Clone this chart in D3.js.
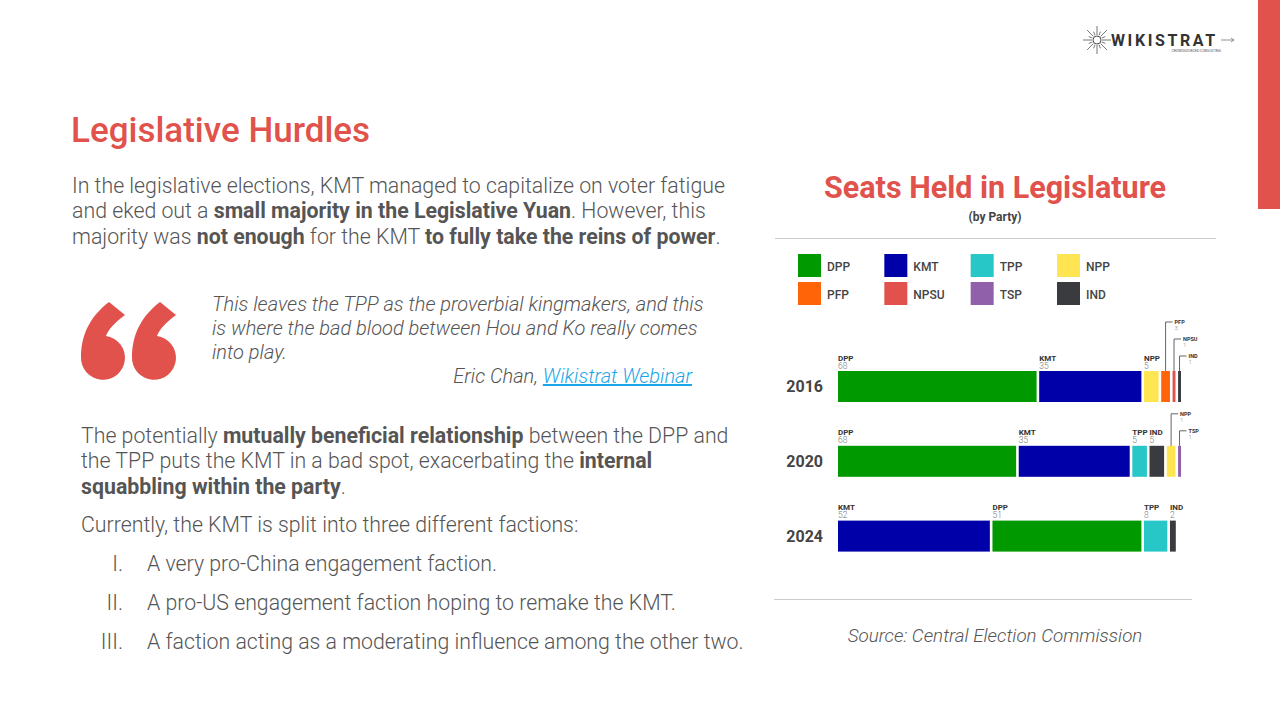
<!DOCTYPE html>
<html>
<head>
<meta charset="utf-8">
<script src="https://cdn.jsdelivr.net/npm/d3@7"></script>
<style>
  body { margin: 0; background: #fff; }
  svg { display: block; font-family: Roboto, "Noto Sans", sans-serif; }
</style>
</head>
<body>
<figure style="margin:0"></figure>
<script>
// chart data
var years = ["2016", "2020", "2024"];
var parties = ["DPP", "KMT", "TPP", "NPP", "PFP", "NPSU", "TSP", "IND"];
var partyColors = ["#009a00", "#0000a8", "#27c7c8", "#ffe552", "#ff6409", "#e0524b", "#9060aa", "#3a3b3f"];

var order2016 = ["DPP", "KMT", "NPP", "PFP", "NPSU", "IND"];
var seats2016 = [68, 35, 5, 3, 1, 1];
var labels2016 = ["68", "35", "5", "3", "1", "1"];

var order2020 = ["DPP", "KMT", "TPP", "IND", "NPP", "TSP"];
var seats2020 = [61, 38, 5, 5, 3, 1];
var labels2020 = ["68", "35", "5", "5", "1", "1"];

var order2024 = ["KMT", "DPP", "TPP", "IND"];
var seats2024 = [52, 51, 8, 2];
var labels2024 = ["52", "51", "8", "2"];

var totalSeats = 113;
var red = "#e0524b";
var textGrey = "#555";

var svg = d3.select("figure").append("svg")
    .attr("width", 1280)
    .attr("height", 720);

// ---- slide decoration ----
svg.append("rect").attr("x", 1258).attr("y", 0).attr("width", 22).attr("height", 209).attr("fill", red);

// logo
var logo = svg.append("g").attr("transform", "translate(1097,40)");
d3.range(16).forEach(function(i) {
  var a = i * Math.PI / 8, r0 = 5, r1 = (i % 2 ? 9 : 14);
  logo.append("line")
      .attr("x1", r0 * Math.cos(a)).attr("y1", r0 * Math.sin(a))
      .attr("x2", r1 * Math.cos(a)).attr("y2", r1 * Math.sin(a))
      .attr("stroke", "#777").attr("stroke-width", 1);
});
logo.append("circle").attr("r", 4).attr("fill", "none").attr("stroke", "#555").attr("stroke-width", 1);
logo.append("text").attr("x", 14).attr("y", 6).attr("font-size", 16).attr("font-weight", 700)
    .attr("letter-spacing", 2.6).attr("fill", "#333").text("WIKISTRAT");
logo.append("path").attr("d", "M124,0H137M134,-2L137,0L134,2").attr("fill", "none")
    .attr("stroke", "#777").attr("stroke-width", 0.8);
logo.append("text").attr("x", 124).attr("y", 12).attr("font-size", 3.5).attr("text-anchor", "end")
    .attr("fill", "#555").text("CROWDSOURCED CONSULTING");

// heading
svg.append("text").attr("x", 71).attr("y", 142).attr("font-size", 35).attr("font-weight", 500)
    .attr("fill", red).text("Legislative Hurdles");

// rich text helper: parts = [[text, bold], ...]
function para(x, y, lineH, size, lines, style) {
  var t = svg.append("text").attr("font-size", size).attr("fill", textGrey)
      .attr("font-weight", 300);
  if (style) t.attr("font-style", style);
  lines.forEach(function(parts, i) {
    parts.forEach(function(p, j) {
      var s = t.append("tspan").text(p[0]);
      if (j === 0) s.attr("x", x).attr("y", y + i * lineH);
      if (p[1]) s.attr("font-weight", 700);
    });
  });
  return t;
}

var bodySize = 21.3;

para(72, 193, 25.3, bodySize, [
  [["In the legislative elections, KMT managed to capitalize on voter fatigue"]],
  [["and eked out a "], ["small majority in the Legislative Yuan", 1], [". However, this"]],
  [["majority was "], ["not enough", 1], [" for the KMT "], ["to fully take the reins of power", 1], ["."]]
]);

// quote mark, two "6" shapes
var quotePath = "M28,0L44,13C34,20 27,28 25,34A22,22 0 1 1 0,55C0,30 12,12 28,0Z";
[81, 132].forEach(function(qx) {
  svg.append("path").attr("d", quotePath).attr("fill", red)
      .attr("transform", "translate(" + qx + ",302)");
});

para(212, 311, 24, 20, [
  [["This leaves the TPP as the proverbial kingmakers, and this"]],
  [["is where the bad blood between Hou and Ko really comes"]],
  [["into play."]]
], "italic");

var cite = svg.append("text").attr("x", 692).attr("y", 383).attr("text-anchor", "end")
    .attr("font-size", 20).attr("font-style", "italic").attr("font-weight", 300).attr("fill", textGrey);
cite.append("tspan").text("Eric Chan, ");
cite.append("tspan").attr("fill", "#1ba6e8").attr("text-decoration", "underline").text("Wikistrat Webinar");

para(81, 443, 25.3, bodySize, [
  [["The potentially "], ["mutually beneficial relationship", 1], [" between the DPP and"]],
  [["the TPP puts the KMT in a bad spot, exacerbating the "], ["internal", 1]],
  [["squabbling within the party", 1], ["."]]
]);
para(81, 532, 25, bodySize, [[["Currently, the KMT is split into three different factions:"]]]);

var listNums = ["I.", "II.", "III."];
var listItems = ["A very pro-China engagement faction.",
                 "A pro-US engagement faction hoping to remake the KMT.",
                 "A faction acting as a moderating influence among the other two."];
listItems.forEach(function(d, i) {
  var y = 571 + i * 39;
  svg.append("text").attr("x", 123).attr("y", y).attr("text-anchor", "end").attr("font-size", bodySize)
      .attr("font-weight", 300).attr("fill", textGrey).text(listNums[i]);
  svg.append("text").attr("x", 147).attr("y", y).attr("font-size", bodySize)
      .attr("font-weight", 300).attr("fill", textGrey).text(d);
});

// ---- chart ----
svg.append("text").attr("x", 995).attr("y", 198).attr("text-anchor", "middle")
    .attr("font-size", 30.5).attr("font-weight", 700).attr("fill", red).text("Seats Held in Legislature");
svg.append("text").attr("x", 995).attr("y", 221).attr("text-anchor", "middle")
    .attr("font-size", 12).attr("font-weight", 700).attr("fill", "#444").text("(by Party)");
svg.append("line").attr("x1", 775).attr("x2", 1216).attr("y1", 238.5).attr("y2", 238.5)
    .attr("stroke", "#ccc").attr("stroke-width", 1.2);
svg.append("line").attr("x1", 774).attr("x2", 1192).attr("y1", 599.5).attr("y2", 599.5)
    .attr("stroke", "#ccc").attr("stroke-width", 1.2);
svg.append("text").attr("x", 995).attr("y", 642).attr("text-anchor", "middle")
    .attr("font-size", 18.8).attr("font-style", "italic").attr("font-weight", 300)
    .attr("fill", textGrey).text("Source: Central Election Commission");

var color = d3.scaleOrdinal().domain(parties).range(partyColors);

// legend: 4 columns, 2 rows
var legendOrder = ["DPP", "KMT", "TPP", "NPP", "PFP", "NPSU", "TSP", "IND"];
var legX = d3.scalePoint().domain([0, 1, 2, 3]).range([798, 1057]);
var legY = d3.scalePoint().domain([0, 1]).range([254, 282]);
var leg = svg.append("g").selectAll("g").data(legendOrder).enter().append("g")
    .attr("transform", function(d, i) { return "translate(" + legX(i % 4) + "," + legY(Math.floor(i / 4)) + ")"; });
leg.append("rect").attr("width", 23).attr("height", 23).attr("fill", function(d) { return color(d); });
leg.append("text").attr("x", 29).attr("y", 16.5).attr("font-size", 12).attr("font-weight", 500)
    .attr("fill", "#444").text(function(d) { return d; });

// bars
var rows = [
  {year: years[0], order: order2016, seats: seats2016, labels: labels2016},
  {year: years[1], order: order2020, seats: seats2020, labels: labels2020},
  {year: years[2], order: order2024, seats: seats2024, labels: labels2024}
];

var x0 = 838, gap = 2.6;
var x = d3.scaleLinear().domain([0, totalSeats]).range([0, 330]);
var y = d3.scaleBand().domain(years).range([371, 551.6]).paddingInner(0.5856).paddingOuter(0);

rows.forEach(function(row) {
  var cum = 0;
  var segs = row.order.map(function(p, i) {
    var s = {party: p, v: row.seats[i], label: row.labels[i], x: x0 + x(cum) + i * gap, w: x(row.seats[i])};
    cum += row.seats[i];
    return s;
  });
  var g = svg.append("g").attr("transform", "translate(0," + y(row.year) + ")");
  var bh = y.bandwidth();

  g.append("text").attr("x", 823).attr("y", bh / 2 + 6).attr("text-anchor", "end")
      .attr("font-size", 16).attr("font-weight", 700).attr("fill", "#444").text(row.year);

  g.selectAll("rect").data(segs).enter().append("rect")
      .attr("x", function(d) { return d.x; })
      .attr("width", function(d) { return d.w; })
      .attr("height", bh)
      .attr("fill", function(d) { return color(d.party); });

  var calls = segs.filter(function(d) { return d.v <= 3 && segs.length > 4; });
  segs.forEach(function(d) {
    var k = calls.indexOf(d);
    if (k < 0) {
      g.append("text").attr("x", d.x).attr("y", -10.5).attr("font-size", 8).attr("font-weight", 700)
          .attr("fill", "#333").text(d.party);
      g.append("text").attr("x", d.x).attr("y", -2.5).attr("font-size", 8.5).attr("font-weight", 300)
          .attr("fill", "#777").text(d.label);
    } else {
      var cx = d.x + d.w / 2;
      var top = -(15 + 17 * (calls.length - 1 - k));
      g.append("path").attr("d", "M" + cx + ",0V" + top + "H" + (cx + 7))
          .attr("fill", "none").attr("stroke", "#666").attr("stroke-width", 1);
      g.append("text").attr("x", cx + 9).attr("y", top + 2).attr("font-size", 5.5).attr("font-weight", 700)
          .attr("fill", "#333").text(d.party);
      g.append("text").attr("x", cx + 9).attr("y", top + 8).attr("font-size", 6).attr("font-weight", 300)
          .attr("fill", "#888").text(d.label);
    }
  });
});
</script>
</body>
</html>
